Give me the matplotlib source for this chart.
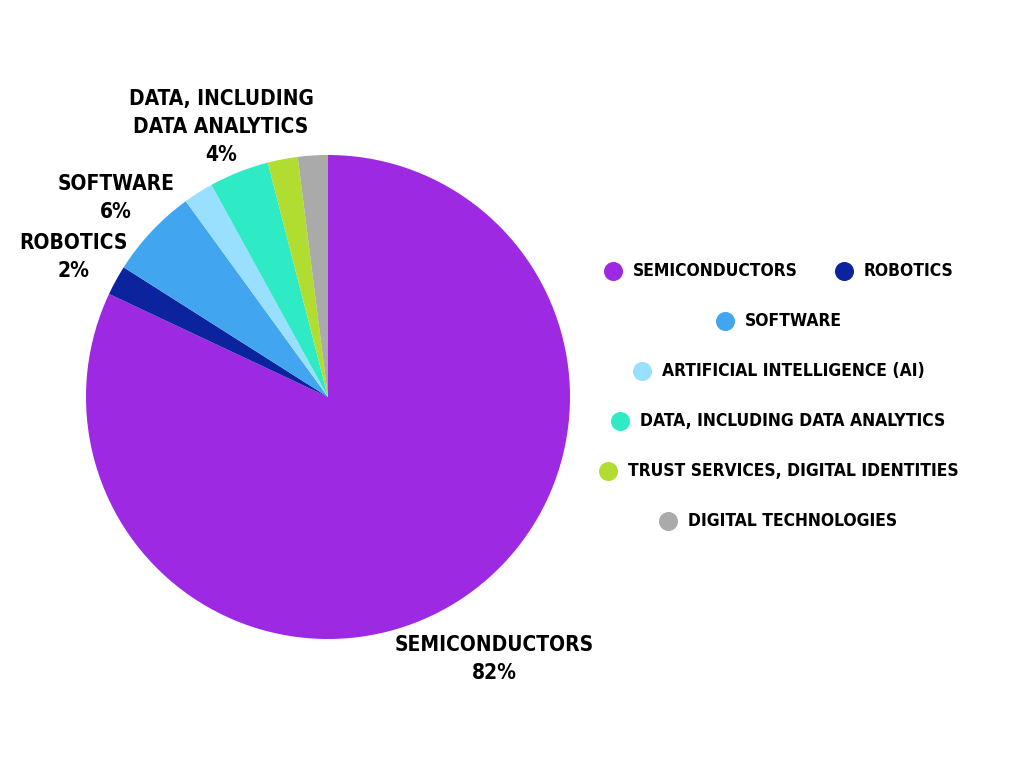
import matplotlib.pyplot as plt
from matplotlib import font_manager

# data
categories = ['Semiconductors', 'Robotics', 'Software', 'Artificial Intelligence (AI)',
              'Data, including data analytics', 'Trust services, digital identities',
              'Digital technologies']
shares = [82, 2, 6, 2, 4, 2, 2]
colors = ['#9d29e2', '#0b239d', '#42a5f0', '#99dfff', '#2eebc6', '#b0dd30', '#aaaaaa']
pie_labels = ['SEMICONDUCTORS\n82%', 'ROBOTICS\n2%', 'SOFTWARE\n6%', '',
              'DATA, INCLUDING\nDATA ANALYTICS\n4%', '', '']
legend_rows = [[0, 1], [2], [3], [4], [5], [6]]

# look for a condensed / narrow face, else DejaVu Sans
font, stretch = 'DejaVu Sans', 'normal'
for f in font_manager.fontManager.ttflist:
    nm = f.name.lower()
    if 'narrow' in nm or 'condensed' in nm or f.stretch in ('condensed', 'semi-condensed', 'extra-condensed'):
        font, stretch = f.name, f.stretch
        if 'bold' in str(f.weight).lower() or (isinstance(f.weight, int) and f.weight >= 600):
            break
plt.rcParams['font.family'] = [font, 'DejaVu Sans']
plt.rcParams['font.stretch'] = stretch

W, H = 1024, 768
fig = plt.figure(figsize=(W / 100, H / 100), dpi=100)
cx, cy, r = 328, 397, 242
ax = fig.add_axes([(cx - r) / W, (H - cy - r) / H, 2 * r / W, 2 * r / H])

wedges, texts = ax.pie(shares, colors=colors, startangle=90, counterclock=False,
                       labels=pie_labels, labeldistance=1.2,
                       wedgeprops=dict(linewidth=0),
                       textprops=dict(fontsize=15, fontweight='bold', color='black',
                                      linespacing=1.5))
for t in texts:
    t.set_ha('center')
    t.set_va('center')
    t.set_multialignment('center')
    t.set_clip_on(False)
x0, y0 = texts[0].get_position()
texts[0].set_position((x0 * 1.07, y0 * 1.07))
ax.set_xlim(-1, 1)
ax.set_ylim(-1, 1)
ax.set_aspect('equal')
ax.axis('off')

# legend drawn in pixel coordinates, rows centred around x = 778
lax = fig.add_axes([0, 0, 1, 1], facecolor='none')
lax.set_xlim(0, W)
lax.set_ylim(H, 0)
lax.axis('off')
renderer = fig.canvas.get_renderer()
leg_cx = 778
row_y0, row_step = 271, 50
for ri, row in enumerate(legend_rows):
    y = row_y0 + ri * row_step
    items = []
    for i in row:
        t = lax.text(0, y, categories[i].upper(), fontsize=12.5, fontweight='bold',
                     va='center', ha='left')
        w = t.get_window_extent(renderer).width
        items.append((i, t, w))
    total = sum(20 + w for _, _, w in items) + 46 * (len(items) - 1) + 10
    x = leg_cx - total / 2 + 10
    for i, t, w in items:
        lax.scatter([x], [y], s=19 ** 2 * 0.52, color=colors[i], linewidths=0)
        t.set_x(x + 20)
        x += 20 + w + 46

fig.savefig('out.png', dpi=100)
